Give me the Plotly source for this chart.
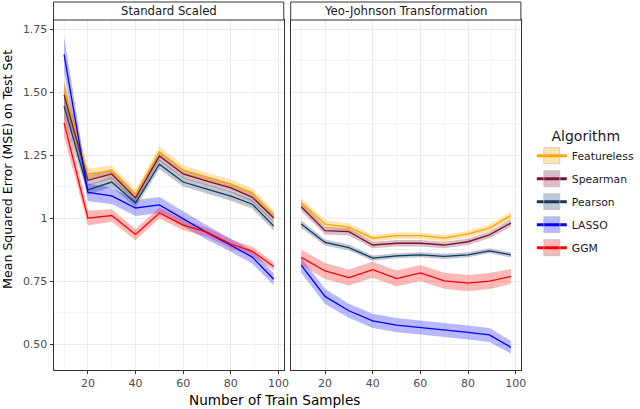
import plotly.graph_objects as go

# ---------------- data ----------------
train_samples = [10, 20, 30, 40, 50, 60, 70, 80, 89, 98]
algorithms = ["Featureless", "Spearman", "Pearson", "LASSO", "GGM"]
panels = ["Standard Scaled", "Yeo-Johnson Transformation"]

# Standard Scaled panel (mean MSE)
ss_featureless = [1.505, 1.175, 1.187, 1.095, 1.262, 1.19, 1.162, 1.135, 1.10, 1.012]
ss_spearman    = [1.490, 1.150, 1.175, 1.080, 1.246, 1.175, 1.147, 1.120, 1.082, 1.000]
ss_pearson     = [1.444, 1.112, 1.143, 1.060, 1.214, 1.143, 1.115, 1.087, 1.055, 0.968]
ss_lasso       = [1.650, 1.102, 1.088, 1.040, 1.052, 0.998, 0.942, 0.892, 0.845, 0.757]
ss_ggm         = [1.378, 1.000, 1.010, 0.935, 1.020, 0.972, 0.944, 0.897, 0.868, 0.808]
# half widths of the confidence bands
ss_featureless_se = [0.055, 0.022, 0.022, 0.018, 0.022, 0.020, 0.018, 0.018, 0.018, 0.018]
ss_spearman_se    = [0.050, 0.020, 0.020, 0.018, 0.020, 0.018, 0.018, 0.018, 0.018, 0.018]
ss_pearson_se     = [0.050, 0.020, 0.020, 0.018, 0.020, 0.018, 0.018, 0.018, 0.018, 0.018]
ss_lasso_se       = [0.070, 0.035, 0.032, 0.032, 0.032, 0.030, 0.028, 0.026, 0.026, 0.024]
ss_ggm_se         = [0.055, 0.030, 0.025, 0.022, 0.022, 0.020, 0.018, 0.018, 0.018, 0.016]

# Yeo-Johnson panel (mean MSE)
yj_featureless = [1.062, 0.976, 0.964, 0.920, 0.930, 0.930, 0.920, 0.937, 0.960, 1.010]
yj_spearman    = [1.045, 0.950, 0.946, 0.893, 0.900, 0.900, 0.893, 0.906, 0.933, 0.980]
yj_pearson     = [0.976, 0.903, 0.883, 0.841, 0.850, 0.854, 0.848, 0.854, 0.870, 0.854]
yj_lasso       = [0.813, 0.689, 0.632, 0.592, 0.575, 0.566, 0.557, 0.546, 0.536, 0.487]
yj_ggm         = [0.844, 0.790, 0.764, 0.795, 0.760, 0.782, 0.751, 0.742, 0.750, 0.768]
yj_featureless_se = [0.018, 0.015, 0.015, 0.013, 0.013, 0.013, 0.013, 0.013, 0.013, 0.015]
yj_spearman_se    = [0.018, 0.015, 0.015, 0.013, 0.013, 0.013, 0.013, 0.013, 0.013, 0.015]
yj_pearson_se     = [0.015, 0.012, 0.012, 0.010, 0.010, 0.010, 0.010, 0.010, 0.010, 0.010]
yj_lasso_se       = [0.030, 0.030, 0.028, 0.028, 0.028, 0.028, 0.028, 0.028, 0.028, 0.025]
yj_ggm_se         = [0.030, 0.032, 0.032, 0.032, 0.032, 0.032, 0.032, 0.032, 0.032, 0.030]

y_tickvals = [0.5, 0.75, 1.0, 1.25, 1.5, 1.75]
y_ticktext = ["0.50", "0.75", "1", "1.25", "1.50", "1.75"]
x_tickvals = [20, 40, 60, 80, 100]

# ---------------- style ----------------
line_colors = {
    "Featureless": "#FFA500",
    "Spearman": "#7A1530",
    "Pearson": "#14375E",
    "LASSO": "#0000FF",
    "GGM": "#FF0000",
}
band_colors = {
    "Featureless": "rgba(255,165,0,0.30)",
    "Spearman": "rgba(122,21,48,0.28)",
    "Pearson": "rgba(20,55,94,0.28)",
    "LASSO": "rgba(0,0,255,0.28)",
    "GGM": "rgba(255,0,0,0.28)",
}

panel_data = {
    "Standard Scaled": {
        "Featureless": (ss_featureless, ss_featureless_se),
        "Spearman": (ss_spearman, ss_spearman_se),
        "Pearson": (ss_pearson, ss_pearson_se),
        "LASSO": (ss_lasso, ss_lasso_se),
        "GGM": (ss_ggm, ss_ggm_se),
    },
    "Yeo-Johnson Transformation": {
        "Featureless": (yj_featureless, yj_featureless_se),
        "Spearman": (yj_spearman, yj_spearman_se),
        "Pearson": (yj_pearson, yj_pearson_se),
        "LASSO": (yj_lasso, yj_lasso_se),
        "GGM": (yj_ggm, yj_ggm_se),
    },
}

W, H = 640, 409
def px_x(p):
    return p / W
def px_y(p):
    return 1 - p / H

fig = go.Figure()

draw_order = ["Featureless", "Spearman", "Pearson", "LASSO", "GGM"]
for pi, panel in enumerate(panels):
    xa = "x" if pi == 0 else "x2"
    ya = "y" if pi == 0 else "y2"
    for alg in draw_order:
        mean, se = panel_data[panel][alg]
        upper = [m + s for m, s in zip(mean, se)]
        lower = [m - s for m, s in zip(mean, se)]
        fig.add_trace(go.Scatter(
            x=train_samples + train_samples[::-1],
            y=upper + lower[::-1],
            fill="toself", fillcolor=band_colors[alg],
            line=dict(width=0), mode="lines", hoverinfo="skip",
            showlegend=False, xaxis=xa, yaxis=ya))
    for alg in draw_order:
        mean, se = panel_data[panel][alg]
        fig.add_trace(go.Scatter(
            x=train_samples, y=mean, mode="lines",
            line=dict(color=line_colors[alg], width=1.3),
            showlegend=False, xaxis=xa, yaxis=ya))

# legend entries
for alg in algorithms:
    fig.add_trace(go.Scatter(
        x=[None], y=[None], mode="lines+markers", name=alg, legendgroup=alg,
        line=dict(color=line_colors[alg], width=3),
        marker=dict(symbol="square", size=20, color=band_colors[alg],
                    line=dict(color="rgba(190,190,190,0.7)", width=1)),
        showlegend=True))

grid_major = "#EBEBEB"
grid_minor = "#F4F4F4"
axis_common = dict(
    showline=True, linecolor="#333333", linewidth=1, mirror=True,
    showgrid=True, gridcolor=grid_major, gridwidth=1, zeroline=False,
    ticks="outside", ticklen=3, tickcolor="#333333", tickwidth=1,
    tickfont=dict(family="DejaVu Sans", size=11, color="#4D4D4D"),
)

xrange = [5.6, 102.2]
yrange = [0.397, 1.786]
plot_top, plot_bottom = 20, 370

minor_x = dict(tickvals=[10, 30, 50, 70, 90], showgrid=True,
               gridcolor=grid_minor, gridwidth=1, ticklen=0)
minor_y = dict(tickvals=[0.625, 0.875, 1.125, 1.375, 1.625], showgrid=True,
               gridcolor=grid_minor, gridwidth=1, ticklen=0)

fig.update_layout(
    width=W, height=H,
    margin=dict(l=0, r=0, t=0, b=0),
    plot_bgcolor="white", paper_bgcolor="white",
    xaxis=dict(domain=[px_x(54), px_x(286)], range=xrange,
               tickvals=x_tickvals, anchor="y", minor=minor_x, **axis_common),
    xaxis2=dict(domain=[px_x(293), px_x(525)], range=xrange,
                tickvals=x_tickvals, anchor="y2", minor=minor_x, **axis_common),
    yaxis=dict(domain=[px_y(plot_bottom), px_y(plot_top)], range=yrange,
               tickvals=y_tickvals, ticktext=y_ticktext, anchor="x",
               minor=minor_y, **axis_common),
    yaxis2=dict(domain=[px_y(plot_bottom), px_y(plot_top)], range=yrange,
                tickvals=y_tickvals, showticklabels=False, ticks="", anchor="x2",
                minor=minor_y,
                **{k: v for k, v in axis_common.items() if k not in ("ticks",)}),
    legend=dict(
        x=px_x(536), y=px_y(123), xanchor="left", yanchor="top",
        title=dict(text="Algorithm", side="top center",
                   font=dict(family="DejaVu Sans", size=14, color="#1A1A1A")),
        font=dict(family="DejaVu Sans", size=10.8, color="#1A1A1A"),
        itemwidth=30, tracegroupgap=4, bgcolor="rgba(0,0,0,0)",
    ),
)

# facet strips
strip_top, strip_bottom = 2, 20
for pi, (x0, x1) in enumerate([(54, 286), (293, 525)]):
    fig.add_shape(type="rect", xref="paper", yref="paper",
                  x0=px_x(x0), x1=px_x(x1), y0=px_y(strip_bottom), y1=px_y(strip_top),
                  line=dict(color="#333333", width=1), fillcolor="white", layer="above")
    fig.add_annotation(x=px_x((x0 + x1) / 2), y=px_y((strip_top + strip_bottom) / 2),
                       xref="paper", yref="paper", text=panels[pi], showarrow=False,
                       font=dict(family="DejaVu Sans", size=11.7, color="#1A1A1A"),
                       xanchor="center", yanchor="middle")

# axis titles
fig.add_annotation(x=px_x(276.5), y=px_y(400), xref="paper", yref="paper",
                   text="Number of Train Samples", showarrow=False,
                   font=dict(family="DejaVu Sans", size=13.6, color="#000000"),
                   xanchor="center", yanchor="middle")
fig.add_annotation(x=px_x(8), y=px_y(169), xref="paper", yref="paper",
                   text="Mean Squared Error (MSE) on Test Set", showarrow=False, textangle=-90,
                   font=dict(family="DejaVu Sans", size=12.6, color="#000000"),
                   xanchor="center", yanchor="middle")

fig.write_html("out.html", config={"displayModeBar": False},
               post_script="document.body.style.margin='0';")
